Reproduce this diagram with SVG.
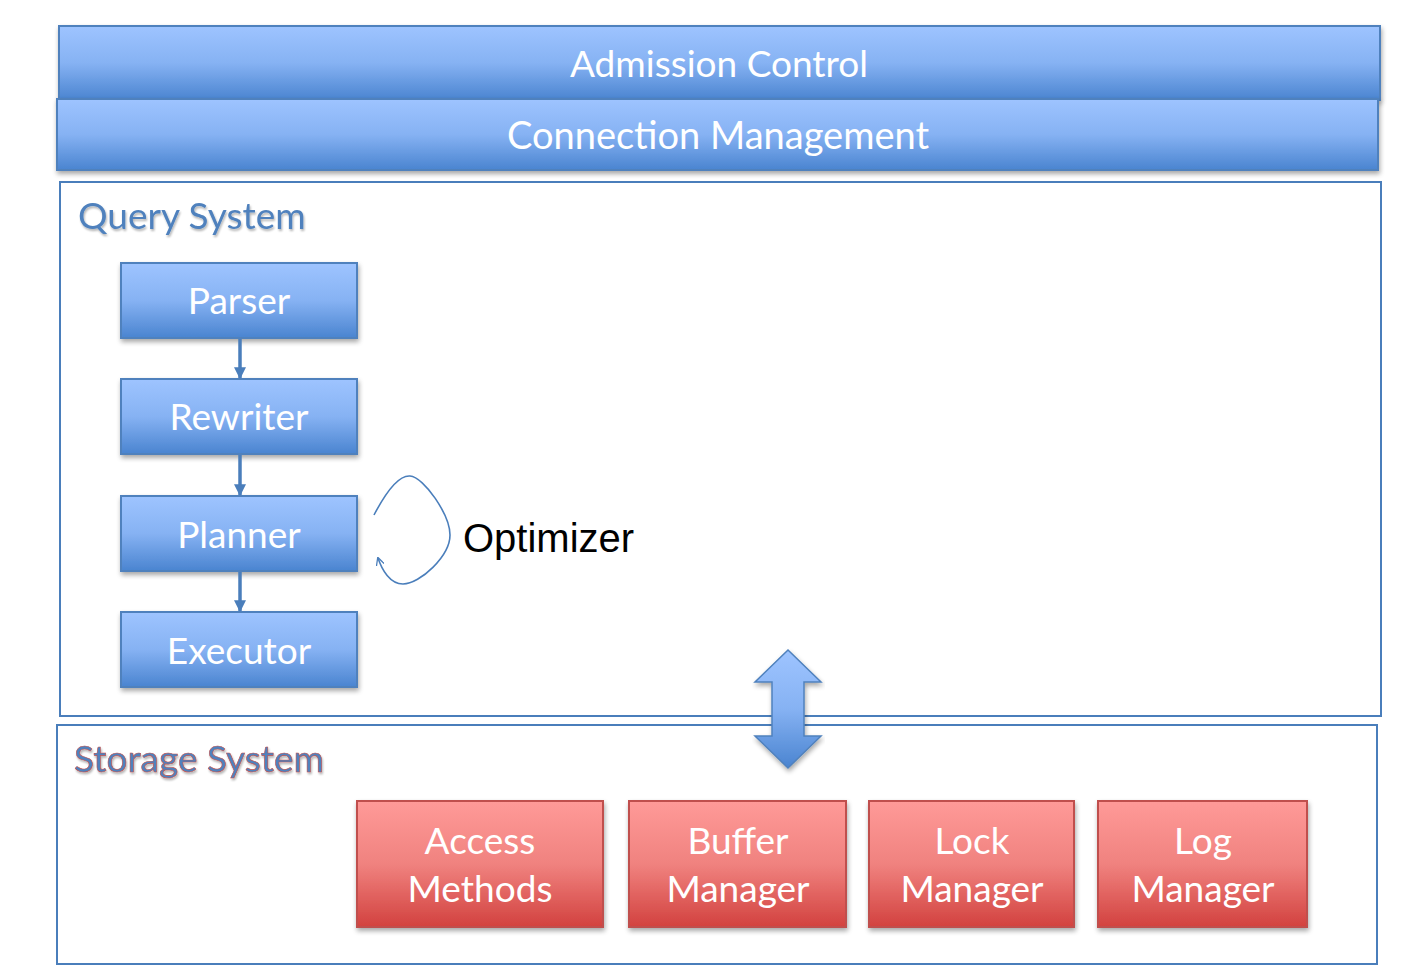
<svg xmlns="http://www.w3.org/2000/svg" width="1428" height="971" viewBox="0 0 1428 971">
<defs>
<linearGradient id="gBlue" x1="0" y1="0" x2="0" y2="1">
<stop offset="0" stop-color="#9ec4ff"/>
<stop offset="0.5" stop-color="#86b2f3"/>
<stop offset="1" stop-color="#4a84d0"/>
</linearGradient>
<linearGradient id="gRed" x1="0" y1="0" x2="0" y2="1">
<stop offset="0" stop-color="#ff9a98"/>
<stop offset="0.5" stop-color="#f0827f"/>
<stop offset="1" stop-color="#d2423f"/>
</linearGradient>
<filter id="sh" x="-5%" y="-10%" width="110%" height="130%">
<feGaussianBlur in="SourceAlpha" stdDeviation="2.5"/>
<feOffset dx="1" dy="3" result="b"/>
<feComponentTransfer><feFuncA type="linear" slope="0.35"/></feComponentTransfer>
<feMerge><feMergeNode/><feMergeNode in="SourceGraphic"/></feMerge>
</filter>
<filter id="tsh" x="-5%" y="-20%" width="110%" height="150%">
<feGaussianBlur in="SourceAlpha" stdDeviation="1"/>
<feOffset dx="1" dy="2" result="b"/>
<feComponentTransfer><feFuncA type="linear" slope="0.3"/></feComponentTransfer>
<feMerge><feMergeNode/><feMergeNode in="SourceGraphic"/></feMerge>
</filter>
<marker id="ah" viewBox="0 0 10 10" refX="9" refY="5" markerWidth="12" markerHeight="12" markerUnits="userSpaceOnUse" orient="auto">
<path d="M0,0 L10,5 L0,10 z" fill="#4a7ebb"/>
</marker>
<marker id="oh" viewBox="0 0 10 10" refX="9" refY="5" markerWidth="8" markerHeight="8" markerUnits="userSpaceOnUse" orient="auto">
<path d="M0,0 L10,5 L0,10" fill="none" stroke="#4a7ebb" stroke-width="1.6"/>
</marker>
</defs>
<style>
.bb{fill:url(#gBlue);stroke:#4f81bd;stroke-width:2;filter:url(#sh)}
.rb{fill:url(#gRed);stroke:#c0504d;stroke-width:2;filter:url(#sh)}
.frame{fill:#ffffff;stroke:#4a7ebb;stroke-width:2}
.lbl{font-family:Lato,"Liberation Sans",sans-serif;fill:#ffffff;text-anchor:middle;font-size:37px}
.ttl{font-family:Lato,"Liberation Sans",sans-serif;font-size:37px;fill:#4f81bd}
.conn{stroke:#4a7ebb;stroke-width:3.5;fill:none}
</style>
<rect width="1428" height="971" fill="#ffffff"/>

<g id="admission-control">
<rect class="bb" x="59" y="26" width="1321" height="74"/>
<text class="lbl" x="719" y="77">Admission Control</text>
</g>
<g id="connection-management">
<rect class="bb" x="57" y="99" width="1321" height="71"/>
<text class="lbl" x="718" y="149" style="font-size:38px">Connection Management</text>
</g>

<g id="query-system">
<rect class="frame" x="60" y="182" width="1321" height="534"/>
<text class="ttl" x="78" y="229" filter="url(#tsh)">Query System</text>
</g>

<g id="storage-system">
<rect class="frame" x="57" y="725" width="1320" height="239"/>
<text class="ttl" x="74" y="772" stroke="#c0504d" stroke-width="0.6" filter="url(#tsh)">Storage System</text>
</g>

<g id="parser">
<rect class="bb" x="121" y="263" width="236" height="75"/>
<text class="lbl" x="239" y="314">Parser</text>
</g>
<g id="rewriter">
<rect class="bb" x="121" y="379" width="236" height="75"/>
<text class="lbl" x="239" y="430">Rewriter</text>
</g>
<g id="planner">
<rect class="bb" x="121" y="496" width="236" height="75"/>
<text class="lbl" x="239" y="548">Planner</text>
</g>
<g id="executor">
<rect class="bb" x="121" y="612" width="236" height="75"/>
<text class="lbl" x="239" y="664">Executor</text>
</g>

<g id="optimizer-label">
<text x="463" y="552" font-family="'Liberation Sans',Arial,sans-serif" font-size="40" fill="#000000">Optimizer</text>
</g>

<g id="access-methods">
<rect class="rb" x="357" y="801" width="246" height="126"/>
<text class="lbl" x="480" y="854">Access</text>
<text class="lbl" x="480" y="902">Methods</text>
</g>
<g id="buffer-manager">
<rect class="rb" x="629" y="801" width="217" height="126"/>
<text class="lbl" x="738" y="854">Buffer</text>
<text class="lbl" x="738" y="902">Manager</text>
</g>
<g id="lock-manager">
<rect class="rb" x="869" y="801" width="205" height="126"/>
<text class="lbl" x="972" y="854">Lock</text>
<text class="lbl" x="972" y="902">Manager</text>
</g>
<g id="log-manager">
<rect class="rb" x="1098" y="801" width="209" height="126"/>
<text class="lbl" x="1203" y="854">Log</text>
<text class="lbl" x="1203" y="902">Manager</text>
</g>

<g id="connectors">
<line class="conn" x1="240" y1="339" x2="240" y2="378" marker-end="url(#ah)"/>
<line class="conn" x1="240" y1="455" x2="240" y2="495" marker-end="url(#ah)"/>
<line class="conn" x1="240" y1="572" x2="240" y2="611" marker-end="url(#ah)"/>
<path d="M374,515 C386,492 398,475 410,476 C424,477 450,515 450,535 C450,556 420,584 403,584 C390,584 382,570 378,558" fill="none" stroke="#4a7ebb" stroke-width="1.6" marker-end="url(#oh)"/>
<path d="M788,650 L821,682 L804,682 L804,736 L821,736 L788,768 L755,736 L772,736 L772,682 L755,682 Z" fill="url(#gBlue)" stroke="#4f81bd" stroke-width="1.5" filter="url(#sh)"/>
</g>
</svg>
